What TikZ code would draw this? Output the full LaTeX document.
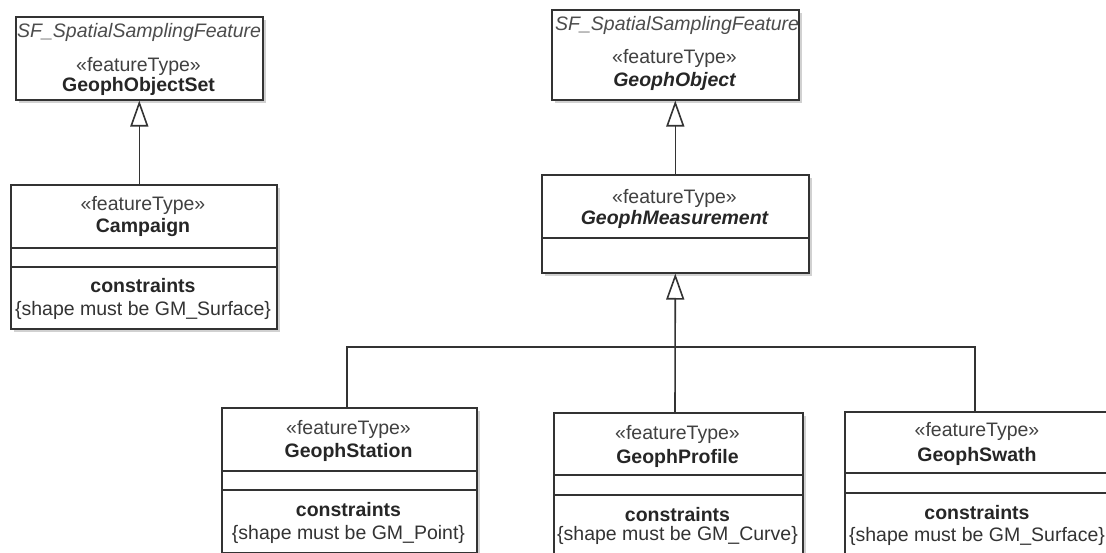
\documentclass[tikz,border=0pt]{standalone}
\usepackage{fontspec}
\setmainfont{Liberation Sans}
\usetikzlibrary{arrows.meta,shadows}

\begin{document}
\begin{tikzpicture}[x=1pt,y=-1pt,
  classbox/.style={draw=black!80, line width=1.6pt, fill=white, inner sep=0pt,
    anchor=north west,
    drop shadow={shadow xshift=3pt, shadow yshift=-3pt, fill=black!18, opacity=1}},
  divider/.style={draw=black!80, line width=1.6pt},
  txt/.style={inner sep=0pt, anchor=base, font=\fontsize{19.5}{22}\selectfont},
  stereo/.style={txt, text=black!75},
  cname/.style={txt, text=black!85, font=\fontsize{19.5}{22}\selectfont\bfseries},
  aname/.style={txt, text=black!85, font=\fontsize{19.5}{22}\selectfont\bfseries\itshape},
  supername/.style={txt, anchor=base west, text=black!70, font=\fontsize{19.5}{22}\selectfont\itshape},
  ctitle/.style={txt, text=black!85, font=\fontsize{19.5}{22}\selectfont\bfseries},
  ctext/.style={txt, text=black!80},
  gen/.style={draw=black!80, line width=1.6pt,
    -{Triangle[open, length=26pt, width=18pt, fill=white]}},
  link/.style={draw=black!80, line width=1.6pt}
]
\useasboundingbox (0,0) rectangle (1106,553);

% ---------- GeophObjectSet ----------
\node[classbox, minimum width=247pt, minimum height=83pt] (objset) at (15,16) {};
\node[supername] (objsetsuper) at (17,38) {SF\_SpatialSamplingFeature};
\node[stereo] (objsetst) at (138.5,72) {«featureType»};
\node[cname] (objsetname) at (138.5,92) {GeophObjectSet};

% ---------- Campaign ----------
\node[classbox, minimum width=266pt, minimum height=144pt] (camp) at (10,184) {};
\node[stereo] (campst) at (143,211) {«featureType»};
\node[cname] (campname) at (143,233) {Campaign};
\draw[divider] (camp.west |- 0,248) -- (camp.east |- 0,248);
\draw[divider] (camp.west |- 0,267) -- (camp.east |- 0,267);
\node[ctitle] (campct) at (143,293) {constraints};
\node[ctext] (campcx) at (143,316) {\{shape must be GM\_Surface\}};

% ---------- GeophObject ----------
\node[classbox, minimum width=247pt, minimum height=90pt] (obj) at (551,9) {};
\node[supername] (objsuper) at (555,31) {SF\_SpatialSamplingFeature};
\node[stereo] (objst) at (674.5,64) {«featureType»};
\node[aname] (objname) at (674.5,87) {GeophObject};

% ---------- GeophMeasurement ----------
\node[classbox, minimum width=267pt, minimum height=98pt] (meas) at (541,174) {};
\node[stereo] (measst) at (674.5,204) {«featureType»};
\node[aname] (measname) at (674.5,225) {GeophMeasurement};
\draw[divider] (meas.west |- 0,238) -- (meas.east |- 0,238);

% ---------- GeophStation ----------
\node[classbox, minimum width=255pt, minimum height=145pt] (station) at (221,407) {};
\node[stereo] (stationst) at (348.5,434) {«featureType»};
\node[cname] (stationname) at (348.5,457) {GeophStation};
\draw[divider] (station.west |- 0,471) -- (station.east |- 0,471);
\draw[divider] (station.west |- 0,490) -- (station.east |- 0,490);
\node[ctitle] (stationct) at (348.5,516) {constraints};
\node[ctext] (stationcx) at (348.5,539) {\{shape must be GM\_Point\}};

% ---------- GeophProfile ----------
\node[classbox, minimum width=249pt, minimum height=160pt] (profile) at (553,412) {};
\node[stereo] (profilest) at (677.5,439) {«featureType»};
\node[cname] (profilename) at (677.5,463) {GeophProfile};
\draw[divider] (profile.west |- 0,475) -- (profile.east |- 0,475);
\draw[divider] (profile.west |- 0,495) -- (profile.east |- 0,495);
\node[ctitle] (profilect) at (677.5,521) {constraints};
\node[ctext] (profilecx) at (677.5,540) {\{shape must be GM\_Curve\}};

% ---------- GeophSwath ----------
\node[classbox, minimum width=266pt, minimum height=160pt] (swath) at (844,411) {};
\node[stereo] (swathst) at (977,436) {«featureType»};
\node[cname] (swathname) at (977,461) {GeophSwath};
\draw[divider] (swath.west |- 0,473) -- (swath.east |- 0,473);
\draw[divider] (swath.west |- 0,493) -- (swath.east |- 0,493);
\node[ctitle] (swathct) at (977,519) {constraints};
\node[ctext] (swathcx) at (977,541) {\{shape must be GM\_Surface\}};

% ---------- generalisations ----------
\draw[gen] (camp.north -| objset.south) -- (objset.south);
\draw[gen] (meas.north -| obj.south) -- (obj.south);

\coordinate (join) at (675,347);
\coordinate (stationtop) at (347,407);
\coordinate (swathtop) at (975,411);
\draw[link] (stationtop) |- (join) -| (swathtop);
\draw[gen] (join |- profile.north) -- (meas.south);
\end{tikzpicture}
\end{document}
